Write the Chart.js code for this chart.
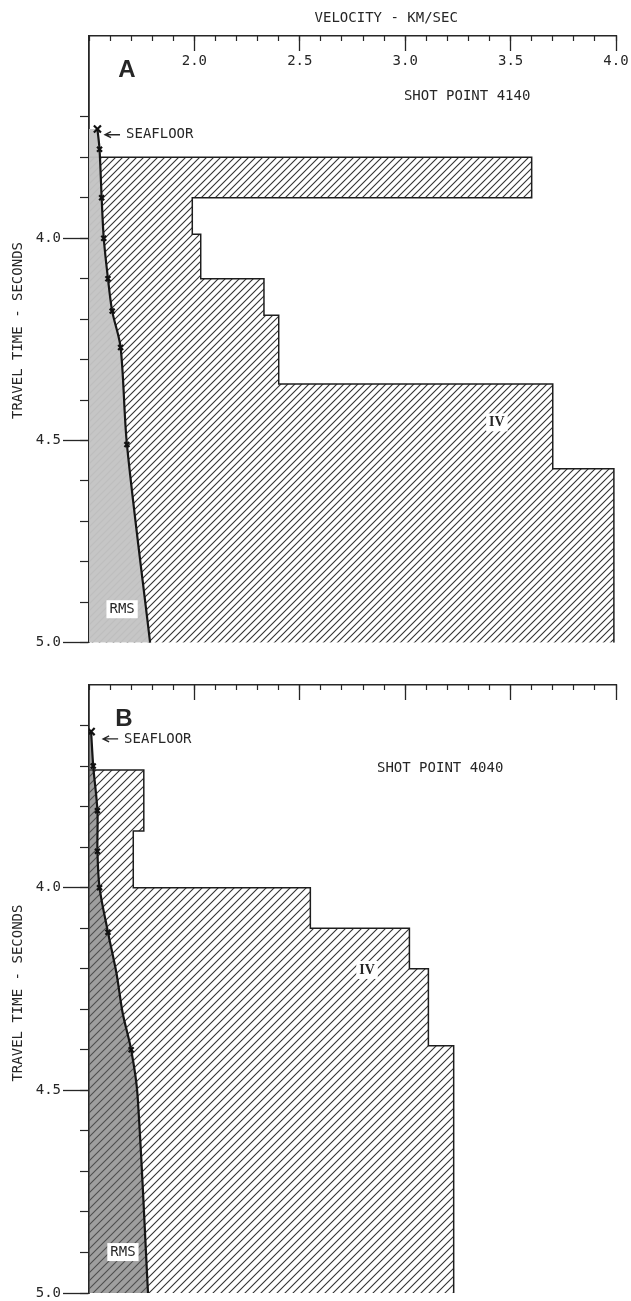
<!DOCTYPE html>
<html>
<head>
<meta charset="utf-8">
<script src="https://cdn.jsdelivr.net/npm/chart.js@4.4.1/dist/chart.umd.min.js"></script>
<style>
  html, body { margin: 0; padding: 0; background: #fff; }
  .wrap { position: absolute; left: 0; width: 631px; }
  #wrapA { top: 0; height: 650px; }
  #wrapB { top: 650px; height: 651px; }
</style>
</head>
<body>
<div class="wrap" id="wrapA"><canvas id="chartA"></canvas></div>
<div class="wrap" id="wrapB"><canvas id="chartB"></canvas></div>
<script>
// axes: velocity km/sec (top) and travel time sec (left, downwards)
const velMin = 1.5, velMax = 4.0;
const timeMin = 3.5, timeMax = 5.0;
const velLabels = ['2.0', '2.5', '3.0', '3.5', '4.0'];
const timeLabels = ['4.0', '4.5', '5.0'];

// A - shot point 4140 : interval velocity layers (layer top time, velocity)
const ivTopA = [3.80, 3.90, 3.99, 4.10, 4.19, 4.36, 4.57];
const ivVelA = [3.60, 1.99, 2.03, 2.33, 2.40, 3.70, 3.99];
// rms velocity curve
const rmsTimeA = [3.73, 3.78, 3.90, 4.00, 4.10, 4.18, 4.27, 4.51, 5.00];
const rmsVelA  = [1.54, 1.55, 1.56, 1.57, 1.59, 1.61, 1.65, 1.68, 1.79];
const rmsMarkA = [3.78, 3.90, 4.00, 4.10, 4.18, 4.27, 4.51];
const seafloorA = 3.73;

// B - shot point 4040
const ivTopB = [3.71, 3.86, 4.00, 4.10, 4.20, 4.39];
const ivVelB = [1.76, 1.71, 2.55, 3.02, 3.11, 3.23];
const rmsTimeB = [3.615, 3.70, 3.81, 3.91, 4.00, 4.11, 4.21, 4.31, 4.40, 4.51, 5.00];
const rmsVelB  = [1.51, 1.52, 1.54, 1.54, 1.55, 1.59, 1.63, 1.66, 1.70, 1.73, 1.78];
const rmsMarkB = [3.70, 3.81, 3.91, 4.00, 4.11, 4.40];
const seafloorB = 3.615;

const FONT = 'DejaVu Sans Mono';
const INK = '#262626';

function hatch(canvas, gap) {
  const tile = document.createElement('canvas');
  tile.width = gap; tile.height = gap;
  const g = tile.getContext('2d');
  g.strokeStyle = '#333';
  g.lineWidth = 1.1;
  g.beginPath();
  g.moveTo(0, gap); g.lineTo(gap, 0);
  g.moveTo(-1, 1); g.lineTo(1, -1);
  g.moveTo(gap - 1, gap + 1); g.lineTo(gap + 1, gap - 1);
  g.stroke();
  return canvas.getContext('2d').createPattern(tile, 'repeat');
}

function ivPoints(tops, vels) {
  const pts = [{x: velMin, y: tops[0]}];
  tops.forEach((t, i) => pts.push({x: vels[i], y: t}));
  pts.push({x: vels[vels.length - 1], y: timeMax});
  return pts;
}

function notesPlugin(notes) {
  return {
    id: 'notes',
    afterDraw(chart) {
      const ctx = chart.ctx, xs = chart.scales.x, ys = chart.scales.y;
      ctx.save();
      notes.forEach(n => {
        const px = xs.getPixelForValue(n.v), py = ys.getPixelForValue(n.t);
        ctx.font = n.font || '14px "' + FONT + '"';
        ctx.fillStyle = INK;
        ctx.textBaseline = 'middle';
        ctx.textAlign = n.align || 'left';
        if (n.rotate) {
          ctx.save();
          ctx.translate(px, py);
          ctx.rotate(-Math.PI / 2);
          ctx.textAlign = 'center';
          ctx.fillText(n.text, 0, 0);
          ctx.restore();
          return;
        }
        if (n.box) {
          const w = ctx.measureText(n.text).width;
          const left = n.align === 'center' ? px - w / 2 : px;
          ctx.fillStyle = '#fff';
          ctx.fillRect(left - 3, py - 9, w + 6, 18);
          ctx.fillStyle = INK;
        }
        if (n.arrow) {
          ctx.strokeStyle = INK;
          ctx.lineWidth = 1.4;
          ctx.beginPath();
          ctx.moveTo(px, py); ctx.lineTo(px + 15, py);
          ctx.moveTo(px + 6, py - 3); ctx.lineTo(px, py); ctx.lineTo(px + 6, py + 3);
          ctx.stroke();
          ctx.fillText(n.text, px + 21, py);
          return;
        }
        ctx.fillText(n.text, px, py);
      });
      ctx.restore();
    }
  };
}

function noPad(s) { s.paddingLeft = 0; s.paddingRight = 0; s.paddingTop = 0; s.paddingBottom = 0; }

function makeChart(id, o) {
  const canvas = document.getElementById(id);
  const rmsPts = o.rmsTime.map((t, i) => ({x: o.rmsVel[i], y: t}));
  const tickFont = {family: FONT, size: 14};
  return new Chart(canvas, {
    type: 'line',
    data: {
      datasets: [
        {
          label: 'RMS',
          data: rmsPts,
          order: 1,
          borderColor: '#161616',
          borderWidth: 2.2,
          backgroundColor: o.rmsFill,
          fill: {value: velMin},
          tension: 0.3,
          pointStyle: 'crossRot',
          pointBorderColor: '#111',
          pointBorderWidth: 2.2,
          pointRadius: c => {
            const t = o.rmsTime[c.dataIndex];
            if (t === o.seafloor) return 5;
            return o.rmsMark.includes(t) ? 3.5 : 0;
          }
        },
        {
          label: 'IV',
          data: ivPoints(o.ivTop, o.ivVel),
          order: 2,
          stepped: 'after',
          borderColor: '#1e1e1e',
          borderWidth: 1.5,
          backgroundColor: hatch(canvas, o.gap),
          fill: {value: velMin},
          pointRadius: 0
        }
      ]
    },
    options: {
      indexAxis: 'y',
      responsive: true,
      maintainAspectRatio: false,
      animation: false,
      layout: {padding: {left: 0, right: 15, top: o.padTop, bottom: o.padBottom}},
      plugins: {legend: {display: false}, tooltip: {enabled: false}},
      scales: {
        x: {
          type: 'linear', position: 'top', min: velMin, max: velMax,
          afterFit: s => { s.height = 0; noPad(s); },
          afterBuildTicks: s => { s.ticks = velLabels.map(l => ({value: parseFloat(l)})); },
          grid: {drawOnChartArea: false, tickLength: -15, tickColor: INK, tickWidth: 1.3},
          border: {color: INK, width: 1.6},
          ticks: {
            mirror: true, padding: 17, autoSkip: false, maxRotation: 0,
            font: tickFont, color: INK,
            callback: (v, i) => o.velTicks ? velLabels[i] : ''
          }
        },
        x2: {
          type: 'linear', position: 'top', min: velMin, max: velMax,
          afterFit: s => { s.height = 0; noPad(s); },
          grid: {drawOnChartArea: false, tickLength: -5, tickColor: INK, tickWidth: 1.2},
          border: {display: false},
          ticks: {stepSize: 0.1, autoSkip: false, callback: () => ''}
        },
        y: {
          type: 'linear', position: 'left', weight: 1, reverse: true, min: timeMin, max: timeMax,
          afterFit: s => { s.width = 89; noPad(s); },
          afterBuildTicks: s => { s.ticks = timeLabels.map(l => ({value: parseFloat(l)})); },
          grid: {drawOnChartArea: false, tickLength: 26, tickColor: INK, tickWidth: 1.3},
          border: {color: INK, width: 1.8},
          ticks: {padding: 2, autoSkip: false, font: tickFont, color: INK, callback: (v, i) => timeLabels[i]}
        },
        y2: {
          type: 'linear', position: 'left', weight: 0, reverse: true, min: timeMin, max: timeMax,
          afterFit: s => { s.width = 0; noPad(s); },
          afterBuildTicks: s => { s.ticks = s.ticks.filter(t => t.value > o.firstTick - 0.001); },
          grid: {drawOnChartArea: false, tickLength: 9, tickColor: INK, tickWidth: 1.2},
          border: {display: false},
          ticks: {stepSize: 0.1, autoSkip: false, callback: () => ''}
        }
      }
    },
    plugins: [notesPlugin(o.notes)]
  });
}

makeChart('chartA', {
  ivTop: ivTopA, ivVel: ivVelA,
  rmsTime: rmsTimeA, rmsVel: rmsVelA, rmsMark: rmsMarkA, seafloor: seafloorA,
  rmsFill: 'rgba(196,196,196,0.96)', gap: 7,
  padTop: 36, padBottom: 7, velTicks: true, firstTick: 3.7,
  notes: [
    {text: 'VELOCITY - KM/SEC', v: 2.91, t: 3.456, align: 'center'},
    {text: 'A', v: 1.68, t: 3.584, align: 'center', font: 'bold 24px "Liberation Sans"'},
    {text: 'SHOT POINT 4140', v: 2.994, t: 3.65},
    {text: 'SEAFLOOR', v: 1.576, t: 3.744, arrow: true},
    {text: 'IV', v: 3.435, t: 4.455, align: 'center', box: true, font: 'bold 14px "Liberation Serif"'},
    {text: 'RMS', v: 1.657, t: 4.917, align: 'center', box: true},
    {text: 'TRAVEL TIME - SECONDS', v: 1.163, t: 4.228, rotate: true}
  ]
});

makeChart('chartB', {
  ivTop: ivTopB, ivVel: ivVelB,
  rmsTime: rmsTimeB, rmsVel: rmsVelB, rmsMark: rmsMarkB, seafloor: seafloorB,
  rmsFill: 'rgba(95,95,95,0.6)', gap: 8,
  padTop: 35, padBottom: 8, velTicks: false, firstTick: 3.6,
  notes: [
    {text: 'B', v: 1.666, t: 3.584, align: 'center', font: 'bold 24px "Liberation Sans"'},
    {text: 'SEAFLOOR', v: 1.567, t: 3.633, arrow: true},
    {text: 'SHOT POINT 4040', v: 2.866, t: 3.705},
    {text: 'IV', v: 2.819, t: 4.203, align: 'center', box: true, font: 'bold 14px "Liberation Serif"'},
    {text: 'RMS', v: 1.661, t: 4.899, align: 'center', box: true},
    {text: 'TRAVEL TIME - SECONDS', v: 1.163, t: 4.26, rotate: true}
  ]
});
</script>
</body>
</html>
